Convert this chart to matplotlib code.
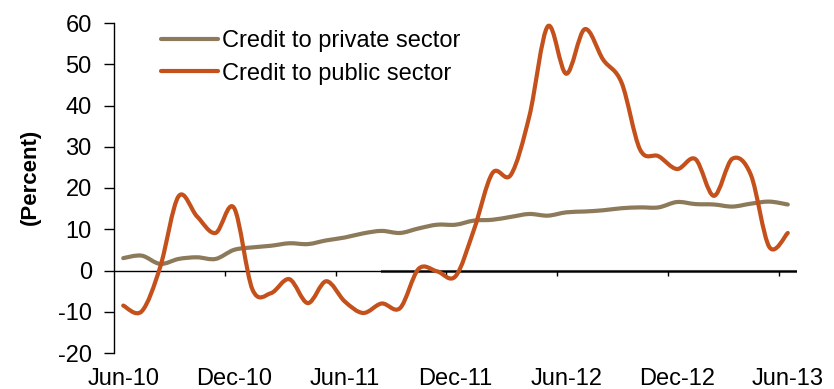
import matplotlib
matplotlib.use("Agg")
import matplotlib.pyplot as plt
from matplotlib.path import Path
from matplotlib.patches import PathPatch
from matplotlib.lines import Line2D
import numpy as np

plt.rcParams['font.family'] = ['Liberation Sans', 'DejaVu Sans']
plt.rcParams['axes.unicode_minus'] = False

# monthly, Jun-10 .. Jun-13
months = ['Jun-10', 'Jul-10', 'Aug-10', 'Sep-10', 'Oct-10', 'Nov-10',
          'Dec-10', 'Jan-11', 'Feb-11', 'Mar-11', 'Apr-11', 'May-11',
          'Jun-11', 'Jul-11', 'Aug-11', 'Sep-11', 'Oct-11', 'Nov-11',
          'Dec-11', 'Jan-12', 'Feb-12', 'Mar-12', 'Apr-12', 'May-12',
          'Jun-12', 'Jul-12', 'Aug-12', 'Sep-12', 'Oct-12', 'Nov-12',
          'Dec-12', 'Jan-13', 'Feb-13', 'Mar-13', 'Apr-13', 'May-13',
          'Jun-13']
private = [3.0, 3.6, 1.6, 2.8, 3.2, 2.8, 5.0, 5.6, 6.0, 6.6, 6.4, 7.3,
           8.0, 9.0, 9.6, 9.1, 10.2, 11.1, 11.1, 12.1, 12.3, 13.0, 13.7, 13.3,
           14.1, 14.3, 14.6, 15.1, 15.3, 15.3, 16.6, 16.1, 16.0, 15.5, 16.2, 16.7,
           16.0]
public = [-8.5, -9.9, 0.8, 18.0, 13.1, 9.1, 15.2, -4.6, -5.5, -2.1, -7.9, -2.6,
          -7.5, -10.3, -8.0, -9.1, 0.4, -0.2, -1.4, 9.9, 23.6, 23.2, 37.4, 59.2,
          47.7, 58.5, 51.1, 45.5, 29.3, 27.7, 24.6, 27.0, 18.1, 27.1, 23.2, 5.7,
          9.1]
zero_start = 'Aug-11'
series_names = ['Credit to private sector', 'Credit to public sector']
colors = ['#8C7A5B', '#C4511B']


def smooth_path(x, y):
    # Excel-style smoothed line: cubic Bezier through every point
    p = np.column_stack([x, y]).astype(float)
    ext = np.vstack([p[0], p, p[-1]])
    verts = [p[0]]
    codes = [Path.MOVETO]
    for i in range(len(p) - 1):
        c1 = ext[i + 1] + (ext[i + 2] - ext[i]) / 6.0
        c2 = ext[i + 2] - (ext[i + 3] - ext[i + 1]) / 6.0
        verts += [c1, c2, p[i + 1]]
        codes += [Path.CURVE4] * 3
    return Path(verts, codes)


fig = plt.figure(figsize=(8.34, 3.89), dpi=100)
ax = fig.add_axes([114 / 834, 36 / 389, 683 / 834, 330 / 389])

x = np.arange(len(months))
ax.set_xlim(-0.5, len(months) - 0.5)
ax.set_ylim(-20, 60)

# zero line
zi = months.index(zero_start)
ax.plot([zi, len(months) - 0.5], [0, 0], color='#555555', lw=2.2, zorder=1)
ax.axhline(0, color='black', lw=1.0, zorder=2)
ax.vlines(np.arange(5.5, len(months), 6), -1.3, 0, color='black', lw=1.0, zorder=2)

for vals, c in zip([private, public], colors):
    ax.add_patch(PathPatch(smooth_path(x, vals), facecolor='none', edgecolor=c,
                           lw=3.0, capstyle='round', joinstyle='round', zorder=3))

for s in ['top', 'right', 'bottom']:
    ax.spines[s].set_visible(False)
ax.spines['left'].set_linewidth(1.0)

ax.set_yticks(range(-20, 61, 10))
ax.tick_params(axis='y', direction='out', length=7, width=1.0, labelsize=17, pad=9)
ax.set_xticks(x[::6])
ax.set_xticklabels(months[::6])
ax.tick_params(axis='x', length=0, labelsize=17, pad=11)

fig.text(30 / 834, 1 - 177 / 389, '(Percent)', rotation=90, ha='center', va='center',
         fontsize=16, fontweight='bold')

handles = [Line2D([], [], color=c, lw=3.0, solid_capstyle='round') for c in colors]
ax.legend(handles, series_names, loc='upper left', bbox_to_anchor=(161 / 834, 1 - 30 / 389),
          bbox_transform=fig.transFigure, frameon=False, fontsize=17,
          handlelength=2.4, handletextpad=0.2, labelspacing=0.45, borderpad=0,
          borderaxespad=0)

fig.savefig('out.png', dpi=100)
